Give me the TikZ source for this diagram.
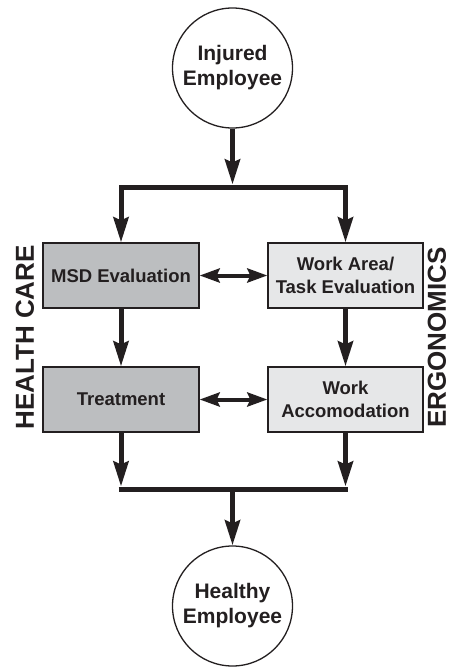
\documentclass[tikz,border=0pt]{standalone}
\usepackage{fontspec}
\setmainfont{Liberation Sans}
\usetikzlibrary{arrows.meta,calc}
\definecolor{ink}{HTML}{231F20}
\definecolor{careFill}{HTML}{BCBEC0}
\definecolor{ergoFill}{HTML}{E6E7E8}
\begin{document}
\begin{tikzpicture}[x=1pt,y=-1pt,
  every node/.style={text=ink,font=\bfseries},
  person/.style={circle,draw=ink,line width=1.3pt,fill=white,minimum size=120pt,inner sep=0pt,
    align=center,font=\bfseries\fontsize{21}{25}\selectfont},
  stepbox/.style={rectangle,draw=ink,line width=1.3pt,minimum height=65pt,inner sep=0pt,
    align=center,font=\bfseries\fontsize{18.5}{23}\selectfont},
  carebox/.style={stepbox,fill=careFill,minimum width=156pt},
  ergobox/.style={stepbox,fill=ergoFill,minimum width=155pt},
  flow/.style={draw=ink,line width=5pt,line join=miter,
    -{Stealth[length=25pt,width=15pt,inset=3pt]}},
  bar/.style={draw=ink,line width=5pt},
  link/.style={draw=ink,line width=4pt,
    {Stealth[length=20pt,width=14pt,inset=3pt]}-{Stealth[length=20pt,width=14pt,inset=3pt]}},
  side/.style={font=\bfseries\fontsize{26}{30}\selectfont,rotate=90}
]
\useasboundingbox (0,0) rectangle (451,667);

% start and end states
\node[person] (inj) at (232.5,68) {Injured\\Employee};
\node[person] (hea) at (232.5,606) {Healthy\\Employee};

% health care column
\node[carebox] (msd) at (121,275.5) {MSD Evaluation};
\node[carebox] (trt) at (121,399.5) {Treatment};

% ergonomics column
\node[ergobox] (wae) at (345.5,275.5) {Work Area/\\Task Evaluation};
\node[ergobox] (acc) at (345.5,399.5) {Work\\Accomodation};

% column labels
\node[side] (hc) at (25,337.5) {HEALTH CARE};
\node[side] (er) at (437,337.5) {ERGONOMICS};

% split and merge points
\coordinate (split) at (232.5,187);
\coordinate (merge) at (232.5,489);

% split into both columns
\draw[flow] (inj.south) -- ($(split)+(0,-2.5)$);
\draw[flow] (split) -| (msd.north);
\draw[flow] (split) -| (wae.north);

% within each column
\draw[flow] (msd.south) -- (trt.north);
\draw[flow] (wae.south) -- (acc.north);

% exchange between columns
\draw[link] (msd.east) -- (wae.west);
\draw[link] (trt.east) -- (acc.west);

% merge back together
\draw[bar] ($(trt.south |- merge)+(-2.5,0)$) -- ($(acc.south |- merge)+(2.5,0)$);
\draw[flow] (trt.south) -- ($(trt.south |- merge)+(0,-2.5)$);
\draw[flow] (acc.south) -- ($(acc.south |- merge)+(0,-2.5)$);
\draw[flow] (merge) -- (hea.north);
\end{tikzpicture}
\end{document}
